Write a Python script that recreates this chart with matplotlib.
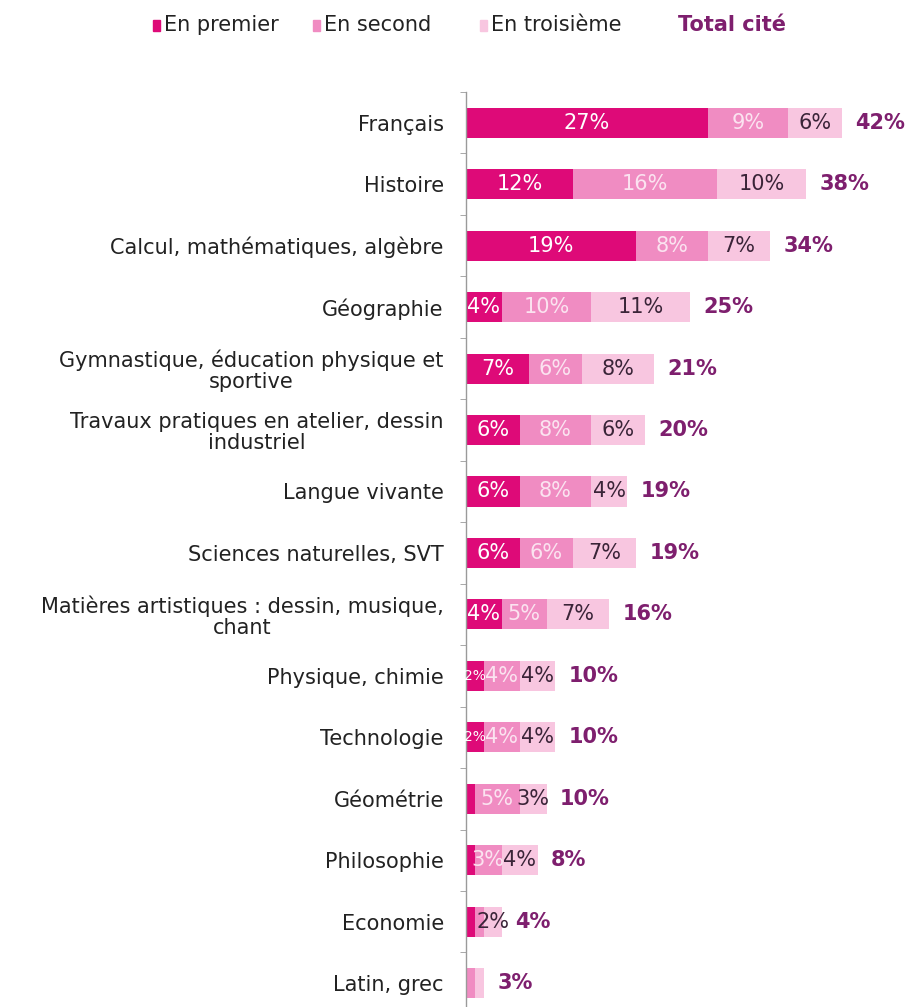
import matplotlib
matplotlib.use("Agg")
import matplotlib.pyplot as plt
from matplotlib.patches import Rectangle

categories = [
    "Français",
    "Histoire",
    "Calcul, mathématiques, algèbre",
    "Géographie",
    "Gymnastique, éducation physique et\nsportive",
    "Travaux pratiques en atelier, dessin\nindustriel",
    "Langue vivante",
    "Sciences naturelles, SVT",
    "Matières artistiques : dessin, musique,\nchant",
    "Physique, chimie",
    "Technologie",
    "Géométrie",
    "Philosophie",
    "Economie",
    "Latin, grec",
]
en_premier = [27, 12, 19, 4, 7, 6, 6, 6, 4, 2, 2, 1, 1, 1, 0]
en_second = [9, 16, 8, 10, 6, 8, 8, 6, 5, 4, 4, 5, 3, 1, 1]
en_troisieme = [6, 10, 7, 11, 8, 6, 4, 7, 7, 4, 4, 3, 4, 2, 1]
total_cite = [42, 38, 34, 25, 21, 20, 19, 19, 16, 10, 10, 10, 8, 4, 3]

series_names = ["En premier", "En second", "En troisième"]
colors = ["#DE0A78", "#F08CC2", "#F8C6E0"]
label_colors = ["white", "#FBE3F0", "#3A2438"]
total_color = "#7E1F6E"
FS = 15

W, H = 909, 1007
fig = plt.figure(figsize=(W / 100, H / 100), dpi=100)
fig.patch.set_facecolor("white")

step = 61.46
top = 92
n = len(categories)
ax_bottom_px = top + n * step
ax = fig.add_axes([466 / W, 1 - ax_bottom_px / H, (W - 466) / W, n * step / H])
ax.set_xlim(0, (W - 466) / 8.95)
ax.set_ylim(n - 0.5, -0.5)

y = list(range(n))
left = [0] * n
all_series = [en_premier, en_second, en_troisieme]
for k, (vals, col, lcol) in enumerate(zip(all_series, colors, label_colors)):
    bars = ax.barh(y, vals, left=left, height=0.49, color=col, edgecolor="none")
    last = k == len(all_series) - 1
    for i, (b, v) in enumerate(zip(bars, vals)):
        if v >= 2:
            # narrow inner segments get a smaller label so neighbours stay apart
            fs = FS if (v >= 3 or last) else 10
            ax.text(left[i] + v / 2, i, f"{v}%", ha="center", va="center",
                    color=lcol, fontsize=fs, family="DejaVu Sans")
    left = [l + v for l, v in zip(left, vals)]

for i, (l, t) in enumerate(zip(left, total_cite)):
    ax.annotate(f"{t}%", xy=(l, i), xytext=(9.5, 0), textcoords="offset points",
                ha="left", va="center", color=total_color, fontsize=FS,
                fontweight="bold", family="DejaVu Sans")

for s in ["top", "right", "bottom"]:
    ax.spines[s].set_visible(False)
ax.spines["left"].set_color("#9A9A9A")
ax.spines["left"].set_linewidth(1.0)
ax.set_xticks([])
ax.set_yticks(y)
ax.set_yticklabels(categories, fontsize=FS, color="#222222",
                   multialignment="center", family="DejaVu Sans",
                   linespacing=1.05)
ax.tick_params(axis="y", length=0, pad=16)
ax.set_yticks([k - 0.5 for k in range(n + 1)], minor=True)
ax.tick_params(axis="y", which="minor", length=4, color="#9A9A9A", direction="out")

# legend across the top
legend_items = list(zip(series_names, colors))
marker_x = [153, 313, 480]
for (name, col), x in zip(legend_items, marker_x):
    fig.patches.append(Rectangle((x / W, 1 - 31 / H), 7 / W, 11 / H,
                                 transform=fig.transFigure, color=col))
    fig.text((x + 11) / W, 1 - 25 / H, name, ha="left", va="center",
             fontsize=FS, color="#222222", family="DejaVu Sans")
fig.text(678 / W, 1 - 25 / H, "Total cité", ha="left", va="center",
         fontsize=FS, color=total_color, fontweight="bold", family="DejaVu Sans")

fig.savefig("out.png", dpi=100, facecolor="white")
